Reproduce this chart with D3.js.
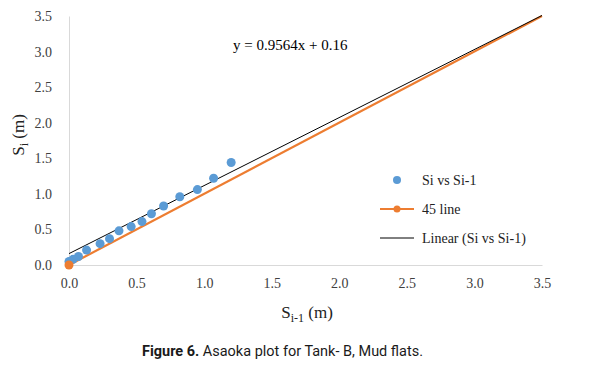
<!DOCTYPE html>
<html>
<head>
<meta charset="utf-8">
<script src="https://cdn.jsdelivr.net/npm/d3@7"></script>
<style>
  body { margin: 0; background: #fff; }
  svg { display: block; }
  .tick text { font-family: "Liberation Serif", "Times New Roman", serif; font-size: 14px; fill: #404040; }
</style>
</head>
<body>
<svg id="chart" width="596" height="386"></svg>
<script>
// Si-1 / Si pairs
const siPrev = [0.00, 0.03, 0.07, 0.13, 0.23, 0.30, 0.37, 0.46, 0.54, 0.61, 0.70, 0.82, 0.95, 1.07, 1.20];
const si     = [0.05, 0.08, 0.12, 0.21, 0.30, 0.37, 0.48, 0.54, 0.61, 0.72, 0.83, 0.96, 1.06, 1.22, 1.44];
const line45 = [[0, 0], [3.5, 3.5]];
const slope = 0.9564, intercept = 0.16;
const ticks = [0, 0.5, 1.0, 1.5, 2.0, 2.5, 3.0, 3.5];

const svg = d3.select("#chart");
const x = d3.scaleLinear().domain([0, 3.5]).range([69, 542]);
const y = d3.scaleLinear().domain([0, 3.5]).range([265, 16]);

// axes
const xAxis = svg.append("g").attr("transform", "translate(0,265)")
    .call(d3.axisBottom(x).tickValues(ticks).tickFormat(d3.format(".1f")).tickSize(0).tickPadding(13));
xAxis.select(".domain").attr("stroke", "#d9d9d9");

const yAxis = svg.append("g").attr("transform", "translate(69,0)")
    .call(d3.axisLeft(y).tickValues(ticks).tickFormat(d3.format(".1f")).tickSize(0).tickPadding(17));
yAxis.select(".domain").attr("stroke", "#d9d9d9");

// 45 line
svg.append("path")
    .attr("d", d3.line().x(d => x(d[0])).y(d => y(d[1]))(line45))
    .attr("stroke", "#ed7d31").attr("stroke-width", 2.2).attr("fill", "none");

// trend line
svg.append("line")
    .attr("x1", x(0)).attr("y1", y(intercept))
    .attr("x2", x(3.5)).attr("y2", y(slope * 3.5 + intercept))
    .attr("stroke", "#000").attr("stroke-width", 1);

// points
svg.append("g").selectAll("circle").data(siPrev).join("circle")
    .attr("cx", d => x(d)).attr("cy", (d, i) => y(si[i])).attr("r", 4.5)
    .attr("fill", "#5b9bd5");

svg.append("circle").attr("cx", x(0)).attr("cy", y(0)).attr("r", 4.5).attr("fill", "#ed7d31");

// equation
svg.append("text").attr("x", 233).attr("y", 50)
    .attr("font-family", "Liberation Serif, serif").attr("font-size", 15).attr("fill", "#000")
    .text("y = 0.9564x + 0.16");

// axis titles
const xt = svg.append("text").attr("x", 307).attr("y", 318).attr("text-anchor", "middle")
    .attr("font-family", "Liberation Serif, serif").attr("font-size", 17).attr("fill", "#222");
xt.append("tspan").text("S");
xt.append("tspan").attr("font-size", 12).attr("dy", 4).text("i-1");
xt.append("tspan").attr("dy", -4).text(" (m)");

const yt = svg.append("text").attr("transform", "translate(24,135) rotate(-90)").attr("text-anchor", "middle")
    .attr("font-family", "Liberation Serif, serif").attr("font-size", 17).attr("fill", "#222");
yt.append("tspan").text("S");
yt.append("tspan").attr("font-size", 12).attr("dy", 4).text("i");
yt.append("tspan").attr("dy", -4).text(" (m)");

// legend
const legend = svg.append("g").attr("font-family", "Liberation Serif, serif").attr("font-size", 14).attr("fill", "#222");
legend.append("circle").attr("cx", 397).attr("cy", 180).attr("r", 4).attr("fill", "#5b9bd5");
legend.append("text").attr("x", 422).attr("y", 185).text("Si vs Si-1");
legend.append("line").attr("x1", 380).attr("x2", 414).attr("y1", 209).attr("y2", 209)
    .attr("stroke", "#ed7d31").attr("stroke-width", 2.2);
legend.append("circle").attr("cx", 397).attr("cy", 209).attr("r", 3.5).attr("fill", "#ed7d31");
legend.append("text").attr("x", 422).attr("y", 214).text("45 line");
legend.append("line").attr("x1", 380).attr("x2", 414).attr("y1", 238).attr("y2", 238)
    .attr("stroke", "#000").attr("stroke-width", 1);
legend.append("text").attr("x", 422).attr("y", 243).text("Linear (Si vs Si-1)");

// caption (condensed look)
const cap = svg.append("text").attr("x", 142).attr("y", 356)
    .attr("font-family", "Roboto, sans-serif").attr("font-size", 15.5)
    .attr("textLength", 281).attr("lengthAdjust", "spacingAndGlyphs")
    .attr("fill", "#1a1a1a");
cap.append("tspan").attr("font-weight", "bold").text("Figure 6.");
cap.append("tspan").text(" Asaoka plot for Tank- B, Mud flats.");
</script>
</body>
</html>
